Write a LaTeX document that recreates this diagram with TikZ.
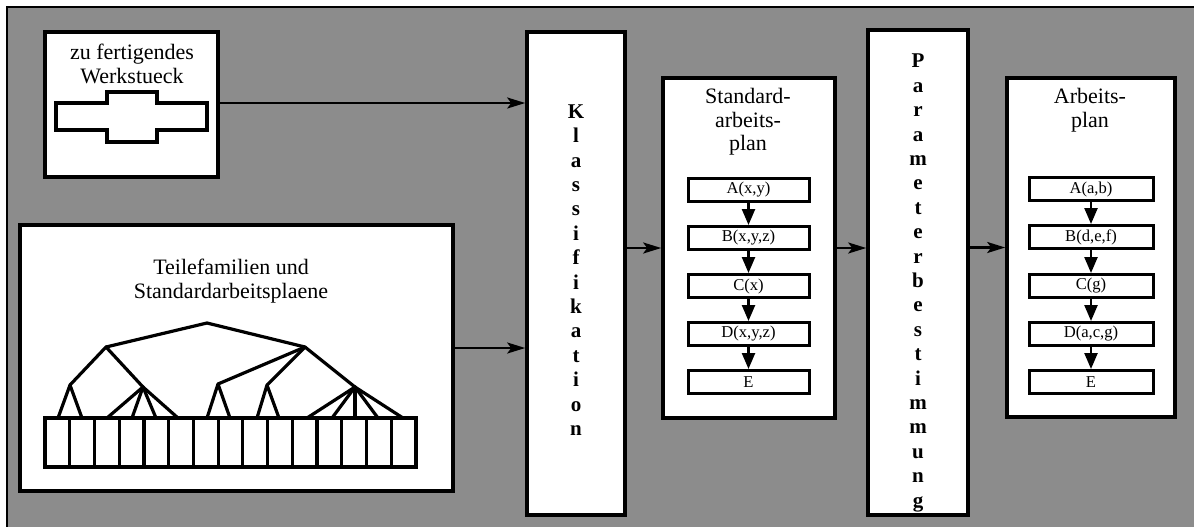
\documentclass[tikz,border=0pt]{standalone}
\usepackage{fontspec}
\setmainfont{Liberation Serif}
\usetikzlibrary{arrows.meta}
\begin{document}
\begin{tikzpicture}[x=0.5pt,y=-0.5pt,
  box/.style={draw=black,fill=white,line width=1.8pt,inner sep=0pt},
  title/.style={font=\fontsize{11}{11.8}\selectfont,align=center,inner sep=0pt},
  vtext/.style={font=\bfseries\fontsize{10.5}{12.2}\selectfont,align=center,inner sep=0pt},
  opbox/.style={draw=black,fill=white,line width=1.5pt,inner sep=0pt,minimum height=11.5pt,font=\fontsize{8.3}{9}\selectfont},
  conn/.style={line width=1.2pt,-{Stealth[length=9pt,width=5.5pt,inset=2pt]}},
  flow/.style={line width=1.2pt,-{Triangle[length=8pt,width=6.5pt]}},
  tree/.style={line width=1.6pt,line join=round,line cap=round}]
\useasboundingbox (0,0) rectangle (1194,526);
\clip (0,0) rectangle (1194,526);
\filldraw[fill=black!45,draw=black,line width=1.2pt] (7,7) rectangle (1200,532);

% boxes
\node[box,minimum width=86.5pt,minimum height=72.5pt] (werk) at (131.5,104.5) {};
\node[box,minimum width=216.5pt,minimum height=133pt] (fam) at (236.5,358) {};
\node[box,minimum width=49pt,minimum height=241.5pt] (klass) at (576,273.5) {};
\node[box,minimum width=86pt,minimum height=170pt] (std) at (749,248) {};
\node[box,minimum width=50pt,minimum height=242.5pt] (param) at (918,272.5) {};
\node[box,minimum width=84pt,minimum height=169.5pt] (arb) at (1091,247.5) {};

% titles
\node[title] (werkt) at (132,64) {zu fertigendes\\Werkstueck};
\node[title] (famt) at (231,281) {Teilefamilien und\\Standardarbeitsplaene};
\node[title] (stdt) at (748,122) {Standard-\\arbeits-\\plan};
\node[title] (arbt) at (1090,110) {Arbeits-\\plan};
\node[vtext] (klasst) at (576,270) {K\\l\\a\\s\\s\\i\\f\\i\\k\\a\\t\\i\\o\\n};
\node[vtext] (paramt) at (918,283) {P\\a\\r\\a\\m\\e\\t\\e\\r\\b\\e\\s\\t\\i\\m\\m\\u\\n\\g};

% workpiece shape
\draw[line width=1.8pt,line join=miter] (56,103) -- (107,103) -- (107,92) -- (157,92) -- (157,103) -- (207,103)
  -- (207,130) -- (157,130) -- (157,142) -- (107,142) -- (107,130) -- (56,130) -- cycle;

% tree
\draw[line width=1.6pt] (45,418) rectangle (416,467);
\foreach \i in {1,...,14} {\draw[line width=1.6pt] ({45+\i*24.733},418) -- ({45+\i*24.733},467);}
\draw[tree] (106,347) -- (207,323) -- (305,347);
\draw[tree] (70,385) -- (106,347) -- (143,387);
\draw[tree] (58,418) -- (70,385) -- (82,418);
\foreach \x in {107,132,156,178} {\draw[tree] (143,387) -- (\x,418);}
\draw[tree] (305,347) -- (218,384);
\draw[tree] (305,347) -- (267,385);
\draw[tree] (305,347) -- (355,387);
\draw[tree] (207,418) -- (218,384) -- (230,418);
\draw[tree] (257,418) -- (267,385) -- (279,418);
\foreach \x in {307,332,355,378,403} {\draw[tree] (355,387) -- (\x,418);}

% standard plan operations
\node[opbox,minimum width=60.5pt] (sa) at (748.5,190) {A(x,y)};
\node[opbox,minimum width=60.5pt] (sb) at (748.5,238) {B(x,y,z)};
\node[opbox,minimum width=60.5pt] (sc) at (748.5,286) {C(x)};
\node[opbox,minimum width=60.5pt] (sd) at (748.5,334) {D(x,y,z)};
\node[opbox,minimum width=60.5pt] (se) at (748.5,382) {E};
\draw[flow] (sa.south) -- (sb.north);
\draw[flow] (sb.south) -- (sc.north);
\draw[flow] (sc.south) -- (sd.north);
\draw[flow] (sd.south) -- (se.north);

% work plan operations
\node[opbox,minimum width=62pt] (aa) at (1091,189) {A(a,b)};
\node[opbox,minimum width=62pt] (ab) at (1091,237) {B(d,e,f)};
\node[opbox,minimum width=62pt] (ac) at (1091,286) {C(g)};
\node[opbox,minimum width=62pt] (ad) at (1091,334) {D(a,c,g)};
\node[opbox,minimum width=62pt] (ae) at (1091,382) {E};
\draw[flow] (aa.south) -- (ab.north);
\draw[flow] (ab.south) -- (ac.north);
\draw[flow] (ac.south) -- (ad.north);
\draw[flow] (ad.south) -- (ae.north);

% connectors
\draw[conn] ([yshift=0.75pt]werk.east) -- ([yshift=0.75pt]werk.east -| klass.west);
\draw[conn] ([yshift=5pt]fam.east) -- ([yshift=5pt]fam.east -| klass.west);
\draw[conn] (klass.east |- std.west) -- (std.west);
\draw[conn] (std.east) -- (std.east -| param.west);
\draw[conn] (param.east |- arb.west) -- (arb.west);
\end{tikzpicture}
\end{document}
